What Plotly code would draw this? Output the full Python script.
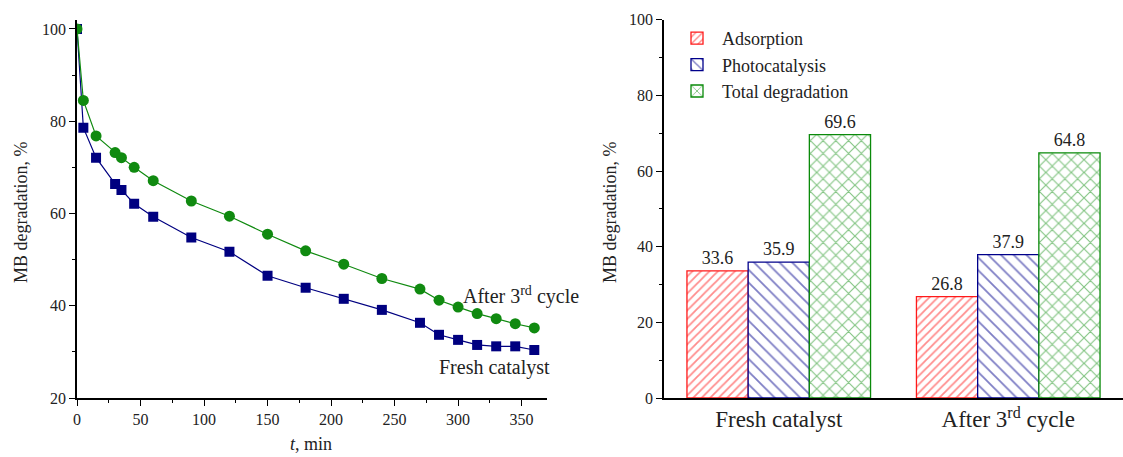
import plotly.graph_objects as go

# ---- data: left panel (kinetics) ----
t_min = [0, 5, 15, 30, 35, 45, 60, 90, 120, 150, 180, 210, 240, 270, 285, 300, 315, 330, 345, 360]
fresh = [100, 78.6, 72.1, 66.4, 65.1, 62.1, 59.3, 54.8, 51.7, 46.5, 43.9, 41.5, 39.1, 36.3, 33.7, 32.6, 31.5, 31.2, 31.2, 30.4]
after3 = [100, 84.5, 76.8, 73.2, 72.1, 70.0, 67.1, 62.7, 59.4, 55.5, 51.9, 49.0, 45.9, 43.6, 41.2, 39.7, 38.3, 37.2, 36.1, 35.2]

# ---- data: right panel (bars) ----
categories = ["Fresh catalyst", "After 3<sup>rd</sup> cycle"]
adsorption = [33.6, 26.8]
photocatalysis = [35.9, 37.9]
total = [69.6, 64.8]

FONT = "Times New Roman, Liberation Serif, DejaVu Serif, serif"
fig = go.Figure()

fig.add_trace(go.Scatter(x=t_min, y=fresh, mode="lines+markers", showlegend=False,
                         line=dict(color="#000080", width=1.2),
                         marker=dict(symbol="square", size=10, color="#000080"),
                         xaxis="x", yaxis="y"))
fig.add_trace(go.Scatter(x=t_min, y=after3, mode="lines+markers", showlegend=False,
                         line=dict(color="#108a10", width=1.2),
                         marker=dict(symbol="circle", size=11, color="#108a10"),
                         xaxis="x", yaxis="y"))

bar_specs = [
    ("Adsorption", adsorption, "#ff1a1a", "/", 6, 0.3),
    ("Photocatalysis", photocatalysis, "#00008b", "\\", 9, 0.2),
    ("Total degradation", total, "#0a8a0a", "x", 9, 0.24),
]
for name, vals, col, shp, sz, sol in bar_specs:
    fig.add_trace(go.Bar(
        x=categories, y=vals, name=name, xaxis="x2", yaxis="y2",
        marker=dict(color="white", line=dict(color=col, width=1.3),
                    pattern=dict(shape=shp, fgcolor=col, bgcolor="white", size=sz, solidity=sol)),
        text=[f"{v:.1f}" for v in vals], textposition="outside",
        textfont=dict(family=FONT, size=18, color="#222"), cliponaxis=False,
    ))

ydom = [1 - 398 / 457, 1 - 19.7 / 457]
axis_common = dict(showline=True, linecolor="black", linewidth=1.5, ticks="outside",
                   ticklen=6, tickwidth=1.2, tickcolor="black", showgrid=False, zeroline=False,
                   tickfont=dict(family=FONT, size=16, color="#222"), automargin=False)

fig.update_layout(
    width=1123, height=457,
    margin=dict(l=0, r=0, t=0, b=0),
    paper_bgcolor="white", plot_bgcolor="white",
    font=dict(family=FONT, color="#222"),
    barmode="group", bargap=0.2, bargroupgap=0,
    xaxis=dict(domain=[77 / 1123, 547 / 1123], range=[0, 370], dtick=50, tick0=0,
               minor=dict(dtick=25, ticklen=3, ticks="outside", tickcolor="black"),
               anchor="y", **axis_common),
    yaxis=dict(domain=ydom, range=[20, 102], dtick=20, tick0=20,
               minor=dict(dtick=10, ticklen=3, ticks="outside", tickcolor="black"),
               anchor="x", **axis_common),
    xaxis2=dict(domain=[664 / 1123, 1.0], anchor="y2", showline=True, linecolor="black",
                linewidth=1.5, ticks="", showgrid=False, range=[-0.5, 1.5],
                tickfont=dict(family=FONT, size=23, color="#222"), automargin=False),
    yaxis2=dict(domain=ydom, range=[0, 100], dtick=20, anchor="x2",
                minor=dict(dtick=10, ticklen=3, ticks="outside", tickcolor="black"),
                **axis_common),
    legend=dict(x=672 / 1123, y=1 - 20 / 457, xanchor="left", yanchor="top",
                font=dict(family=FONT, size=18, color="#222"), bgcolor="rgba(0,0,0,0)",
                tracegroupgap=0, itemwidth=40),
)

ann = [
    dict(text="MB degradation, %", x=21 / 1123, y=1 - 213 / 457, textangle=-90, font=dict(size=18)),
    dict(text="<i>t</i>, min", x=311 / 1123, y=1 - 444 / 457, font=dict(size=18)),
    dict(text="MB degradation, %", x=610 / 1123, y=1 - 213 / 457, textangle=-90, font=dict(size=18)),
    dict(text="After 3<sup>rd</sup> cycle", x=521 / 1123, y=1 - 295 / 457, font=dict(size=20)),
    dict(text="Fresh catalyst", x=494 / 1123, y=1 - 367 / 457, font=dict(size=20)),
]
for a in ann:
    a.update(xref="paper", yref="paper", showarrow=False, xanchor="center", yanchor="middle")
    a["font"].update(family=FONT, color="#222")
    fig.add_annotation(**a)

fig.write_html("out.html", config={"displayModeBar": False},
               post_script="document.body.style.margin='0';document.body.style.padding='0';")
